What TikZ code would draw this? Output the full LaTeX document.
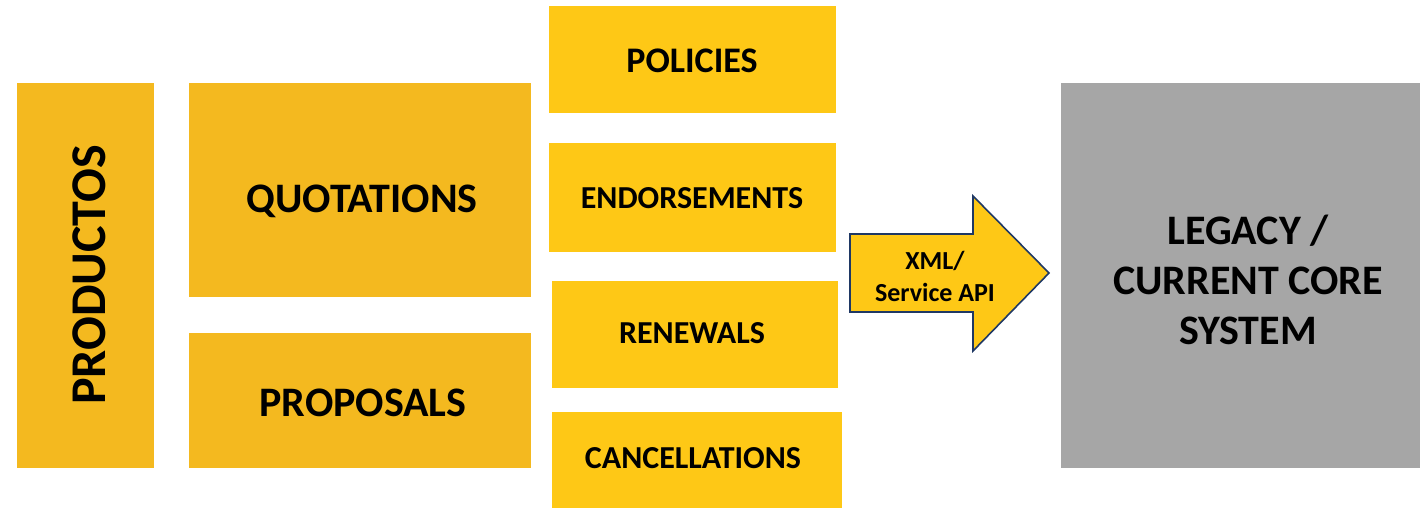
\documentclass[tikz,border=0pt]{standalone}
\usepackage{fontspec}
\setmainfont{Carlito}
\usepackage{xcolor}
\usepackage{tikz}

\definecolor{gold}{RGB}{244,185,31}
\definecolor{sun}{RGB}{254,200,22}
\definecolor{navy}{RGB}{31,56,100}
\definecolor{legacygray}{RGB}{166,166,166}

\begin{document}
\begin{tikzpicture}[x=1pt,y=1pt,yscale=-1,xscale=1,
  block/.style={rectangle,anchor=north west,inner sep=0pt,outer sep=0pt},
  lbl/.style={inner sep=0.75pt,text=black,align=center}]
\path (0,0) rectangle (1425,512); %diagram frame

%Shape: Rectangle [id:productos]
\node[block,fill=gold,minimum width=137pt,minimum height=385pt] (productos) at (17,83) {};
%Shape: Rectangle [id:quotations]
\node[block,fill=gold,minimum width=342pt,minimum height=214pt] (quotations) at (189,83) {};
%Shape: Rectangle [id:proposals]
\node[block,fill=gold,minimum width=342pt,minimum height=135pt] (proposals) at (189,333) {};
%Shape: Rectangle [id:policies]
\node[block,fill=sun,minimum width=287pt,minimum height=107pt] (policies) at (549,6) {};
%Shape: Rectangle [id:endorsements]
\node[block,fill=sun,minimum width=287pt,minimum height=109pt] (endorsements) at (549,143) {};
%Shape: Rectangle [id:renewals]
\node[block,fill=sun,minimum width=286pt,minimum height=107pt] (renewals) at (552,281) {};
%Shape: Rectangle [id:cancellations]
\node[block,fill=sun,minimum width=290pt,minimum height=96pt] (cancellations) at (552,412) {};
%Shape: Right Arrow [id:api]
\draw [navy,fill=sun,line width=1.6pt,line join=miter] (850,234) -- (973,234) -- (973,196) -- (1049,273) -- (973,351) -- (973,312) -- (850,312) -- cycle ;
%Shape: Rectangle [id:legacy]
\node[block,fill=legacygray,minimum width=359pt,minimum height=385pt] (legacy) at (1061,83) {};

% Text Node
\node[lbl,anchor=base,rotate=90,font=\fontsize{50}{58}\selectfont\bfseries] (productostext) at (105,275) {PRODUCTOS};
% Text Node
\node[lbl,anchor=base,font=\fontsize{42}{50}\selectfont\bfseries] (quotationstext) at (362,212) {QUOTATIONS};
% Text Node
\node[lbl,anchor=base,font=\fontsize{42}{50}\selectfont\bfseries] (proposalstext) at (363,416) {PROPOSALS};
% Text Node
\node[lbl,anchor=base,font=\fontsize{36}{42}\selectfont\bfseries] (policiestext) at (692,72) {POLICIES};
% Text Node
\node[lbl,anchor=base,font=\fontsize{32}{38}\selectfont\bfseries] (endorsementstext) at (692,208) {ENDORSEMENTS};
% Text Node
\node[lbl,anchor=base,font=\fontsize{32}{38}\selectfont\bfseries] (renewalstext) at (692,343) {RENEWALS};
% Text Node
\node[lbl,anchor=base,font=\fontsize{32}{38}\selectfont\bfseries] (cancellationstext) at (693,468) {CANCELLATIONS};
% Text Node
\node[lbl,font=\fontsize{26}{32}\selectfont\bfseries] (apitext) at (935,276) {XML/\\Service API};
% Text Node
\node[lbl,font=\fontsize{42}{50}\selectfont\bfseries] (legacytext) at (1248,280) {LEGACY /\\CURRENT CORE\\SYSTEM};

\end{tikzpicture}
\end{document}
